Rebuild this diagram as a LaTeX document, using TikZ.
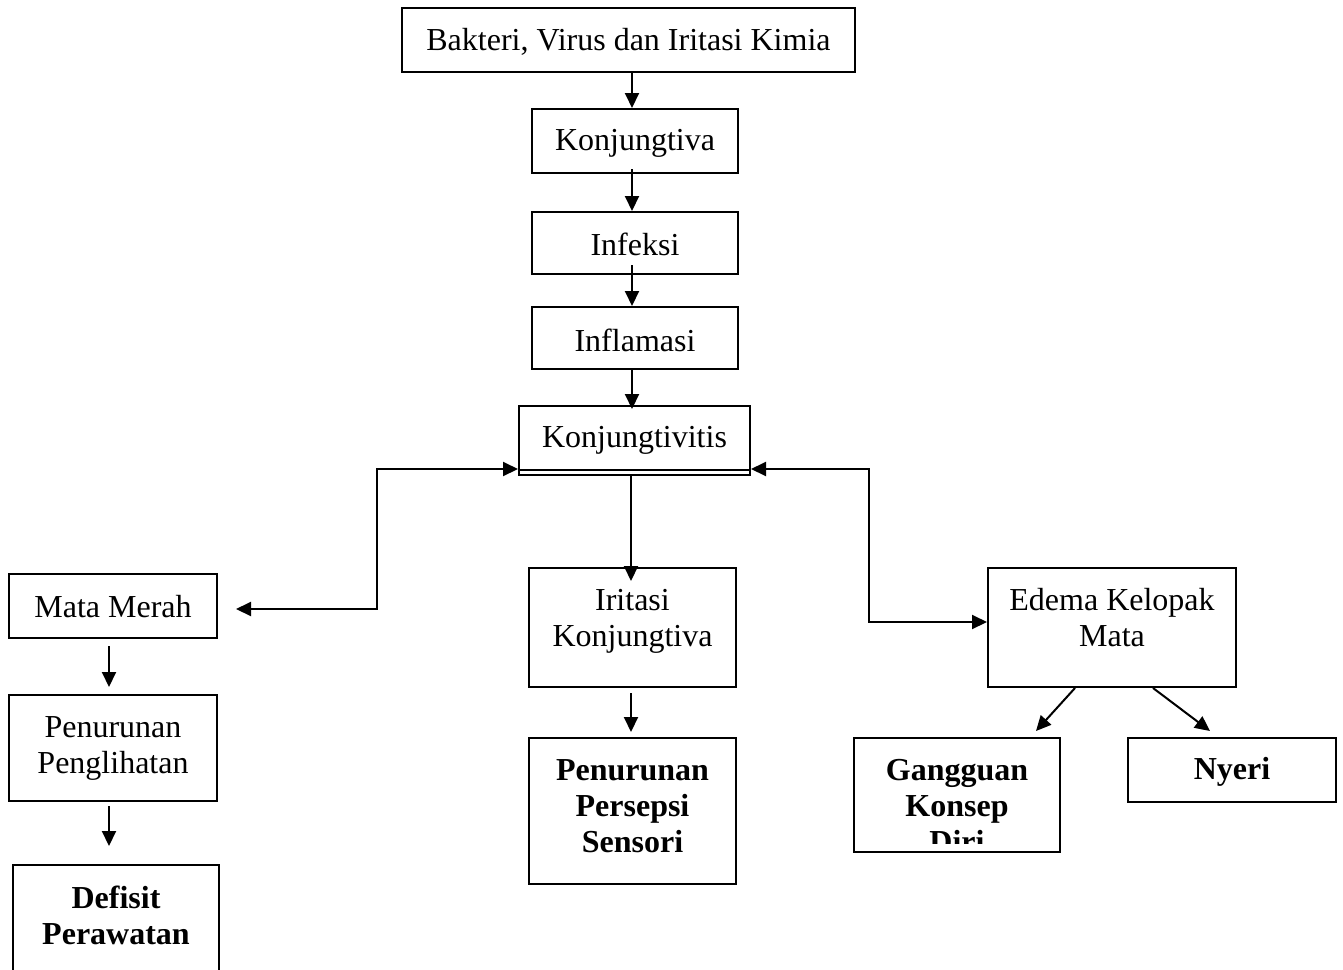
\documentclass[tikz,border=0pt]{standalone}
\usepackage{fontspec}
\setmainfont{Liberation Serif}
\usetikzlibrary{arrows.meta}
\tikzset{
  box/.style={draw, line width=2pt, inner sep=0pt},
  txt/.style={font=\fontsize{32}{36}\selectfont, align=center, inner sep=0pt},
  btxt/.style={font=\fontsize{32}{36}\selectfont\bfseries, align=center, inner sep=0pt},
  conn/.style={line width=2pt},
}
\begin{document}
\begin{tikzpicture}[x=1pt,y=-1pt,>={Triangle[length=15pt,width=14pt]}]
\useasboundingbox (0,0) rectangle (1343,969);
\clip (0,0) rectangle (1343,969);
% boxes
\node[box, minimum width=453pt, minimum height=64pt] (bak) at (628.5,40) {};
\node[txt] (bakt) at (628.5,42) {Bakteri, Virus dan Iritasi Kimia};
\node[box, minimum width=206pt, minimum height=64pt] (konj) at (635,141) {};
\node[txt] (konjt) at (635,143) {Konjungtiva};
\node[box, minimum width=206pt, minimum height=62pt] (inf) at (635,243) {};
\node[txt] (inft) at (635,244) {Infeksi};
\node[box, minimum width=206pt, minimum height=62pt] (infl) at (635,338) {};
\node[txt] (inflt) at (635,340) {Inflamasi};
\node[box, minimum width=231pt, minimum height=64pt] (kvt) at (634.5,438) {};
\node[box, line width=1.5pt, minimum width=231pt, minimum height=5pt] (kvtb) at (634.5,472.5) {};
\node[txt] (kvtt) at (634.5,440) {Konjungtivitis};
\node[box, minimum width=208pt, minimum height=64pt] (mata) at (113,606) {};
\node[txt] (matat) at (113,607) {Mata Merah};
\node[box, minimum width=208pt, minimum height=106pt] (pen) at (113,748) {};
\node[txt] (pent) at (113,748) {Penurunan\\Penglihatan};
\node[box, minimum width=206pt, minimum height=134pt] (def) at (116,932) {};
\node[btxt] (deft) at (116,915) {Defisit\\Perawatan};
\node[box, minimum width=207pt, minimum height=119pt] (irit) at (632.5,627.5) {};
\node[txt] (iritt) at (632.5,621) {Iritasi\\Konjungtiva};
\node[box, minimum width=207pt, minimum height=146pt] (pps) at (632.5,811) {};
\node[btxt] (ppst) at (632.5,806) {Penurunan\\Persepsi\\Sensori};
\node[box, minimum width=248pt, minimum height=119pt] (edema) at (1112,627.5) {};
\node[txt] (edemat) at (1112,618) {Edema Kelopak\\Mata};
\node[box, minimum width=206pt, minimum height=114pt] (gkd) at (957,795) {};
\begin{scope}
\clip (854,738) rectangle (1060,843);
\node[btxt] (gkdt) at (957,806) {Gangguan\\Konsep\\Diri};
\end{scope}
\node[box, minimum width=208pt, minimum height=64pt] (nyeri) at (1232,770) {};
\node[btxt] (nyerit) at (1232,772) {Nyeri};
% connectors
\draw[conn,->] (bak.south -| 632,0) -- (konj.north -| 632,0);
\draw[conn,->] ([yshift=5pt]konj.south -| 632,0) -- (inf.north -| 632,0);
\draw[conn,->] ([yshift=10pt]inf.south -| 632,0) -- (infl.north -| 632,0);
\draw[conn,->] (infl.south -| 632,0) -- ([yshift=-4pt]kvt.north -| 632,0);
\draw[conn,->] (kvtb.south -| 631,0) -- ([yshift=-14pt]irit.north -| 631,0);
\draw[conn,->] ([yshift=-5pt]irit.south -| 631,0) -- ([yshift=5pt]pps.north -| 631,0);
\draw[conn,<->] (kvt.west |- 0,469) -| (377,609) -- ([xshift=18pt]mata.east |- 0,609);
\draw[conn,<->] (kvt.east |- 0,469) -| (869,622) -- (edema.west |- 0,622);
\draw[conn,->] ([yshift=-7pt]mata.south -| 109,0) -- ([yshift=7pt]pen.north -| 109,0);
\draw[conn,->] ([yshift=-4pt]pen.south -| 109,0) -- ([yshift=18pt]def.north -| 109,0);
\draw[conn,->] ([xshift=-37pt]edema.south) -- ([xshift=-25pt,yshift=6pt]gkd.north east);
\draw[conn,->] ([xshift=41pt]edema.south) -- ([xshift=83pt,yshift=6pt]nyeri.north west);
\end{tikzpicture}
\end{document}
